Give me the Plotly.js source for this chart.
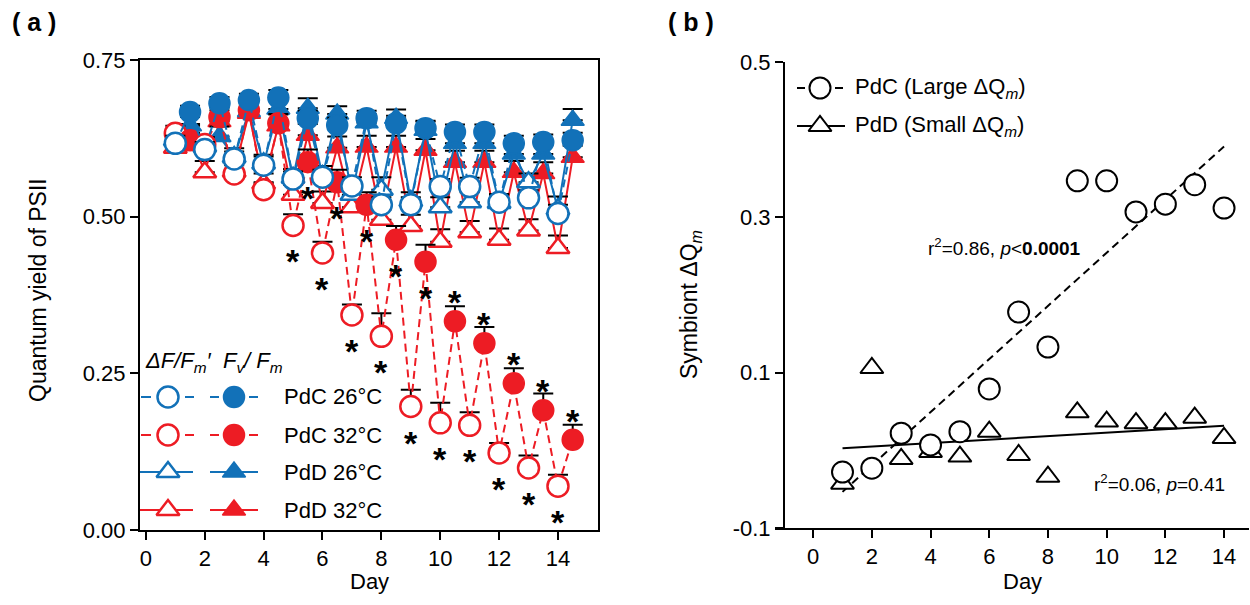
<!DOCTYPE html>
<html><head><meta charset="utf-8">
<script src="https://cdn.plot.ly/plotly-3.0.1.min.js"></script>
<style>html,body{margin:0;padding:0;background:#fff}#chart{width:1250px;height:605px}</style>
</head><body><div id="chart"></div>
<script>
// ---------- data: panel (a) ----------
const days = [1,2,3,4,5,6,7,8,9,10,11,12,13,14];
const halfDays = [1.5,2.5,3.5,4.5,5.5,6.5,7.5,8.5,9.5,10.5,11.5,12.5,13.5,14.5];

// ΔF/Fm' (open markers, measured on whole days)
const pdc26_dF = [0.617,0.607,0.592,0.582,0.560,0.563,0.549,0.519,0.519,0.548,0.548,0.523,0.530,0.505];
const pdc32_dF = [0.633,0.615,0.568,0.543,0.486,0.442,0.343,0.309,0.197,0.171,0.167,0.123,0.099,0.070];
const pdd26_dF = [0.622,0.612,0.595,0.585,0.562,0.565,0.535,0.543,0.525,0.515,0.523,0.522,0.555,0.512];
const pdd32_dF = [0.610,0.571,0.572,0.553,0.535,0.522,0.515,0.495,0.485,0.460,0.475,0.463,0.478,0.450];
// Fv/Fm (filled markers, measured on half days)
const pdc26_Fv = [0.667,0.681,0.686,0.690,0.657,0.646,0.657,0.649,0.641,0.635,0.635,0.617,0.619,0.622];
const pdc32_Fv = [0.622,0.659,0.670,0.649,0.587,0.555,0.519,0.463,0.428,0.333,0.298,0.234,0.191,0.144];
const pdd26_Fv = [0.645,0.628,0.668,0.672,0.673,0.664,0.650,0.657,0.638,0.617,0.617,0.600,0.600,0.654];
const pdd32_Fv = [0.632,0.652,0.665,0.645,0.630,0.610,0.611,0.611,0.606,0.587,0.587,0.571,0.569,0.595];
// upper error (SE)
const pdc26_dF_err = [0.012,0.012,0.012,0.014,0.012,0.012,0.014,0.012,0.012,0.012,0.014,0.012,0.012,0.014];
const pdc32_dF_err = [0.012,0.012,0.014,0.012,0.018,0.018,0.017,0.037,0.027,0.032,0.021,0.016,0.020,0.018];
const pdd26_dF_err = [0.014,0.016,0.014,0.014,0.014,0.016,0.016,0.020,0.014,0.016,0.016,0.014,0.014,0.020];
const pdd32_dF_err = [0.016,0.018,0.016,0.016,0.016,0.018,0.018,0.016,0.018,0.020,0.018,0.018,0.018,0.020];
const pdc26_Fv_err = [0.010,0.010,0.010,0.012,0.012,0.012,0.012,0.012,0.012,0.012,0.012,0.012,0.012,0.012];
const pdc32_Fv_err = [0.012,0.015,0.012,0.015,0.020,0.020,0.020,0.022,0.027,0.024,0.026,0.024,0.027,0.024];
const pdd26_Fv_err = [0.014,0.016,0.014,0.014,0.016,0.012,0.014,0.014,0.014,0.014,0.014,0.014,0.014,0.018];
const pdd32_Fv_err = [0.016,0.018,0.016,0.018,0.018,0.018,0.018,0.018,0.018,0.018,0.018,0.018,0.018,0.018];
// significance stars
const starBelowOpen = [5,6,7,8,9,10,11,12,13,14];
const starBelowFilled = [5.5,6.5,7.5,8.5,9.5];
const starAboveFilled = [10.5,11.5,12.5,13.5,14.5];
const legendLabelsA = ['PdC 26°C','PdC 32°C','PdD 26°C','PdD 32°C'];

// ---------- data: panel (b) ----------
const pdc_dQm = [-0.028,-0.023,0.022,0.007,0.024,0.079,0.178,0.133,0.347,0.347,0.307,0.317,0.342,0.312];
const pdd_dQm = [-0.043,0.106,-0.011,-0.002,-0.008,0.024,-0.006,-0.034,0.049,0.037,0.035,0.035,0.042,0.016];
const legendLabelsB = ['PdC (Large ΔQ<sub><i>m</i></sub>)','PdD (Small ΔQ<sub><i>m</i></sub>)'];
const statC = 'r<sup>2</sup>=0.86, <i>p</i>&lt;<b>0.0001</b>';
const statD = 'r<sup>2</sup>=0.06, <i>p</i>=0.41';

// ---------- helpers ----------
const W = 1250, H = 605;
const px = x => x / W, py = y => 1 - y / H;
const FONT = 'Arial, "Liberation Sans", sans-serif';
const BLUE = '#1271B8', RED = '#ED1C24';
const inter = (a, b) => a.flatMap((v, i) => [v, b[i]]);
const X_ALL = inter(days, halfDays);

function condTrace(dF, Fv, eF, eV, color, symbol, dashed) {
  const isOpen = inter(days.map(() => true), halfDays.map(() => false));
  return {
    type: 'scatter', mode: 'lines+markers', xaxis: 'x', yaxis: 'y',
    x: X_ALL, y: inter(dF, Fv),
    line: {color: color, width: 2, dash: dashed ? '8px,5px' : 'solid'},
    marker: {
      symbol: symbol, size: symbol === 'circle' ? 21 : 20,
      color: isOpen.map(o => o ? 'white' : color),
      line: {color: color, width: isOpen.map(o => o ? 2.5 : 1.5)}
    },
    error_y: {type: 'data', symmetric: false, array: inter(eF, eV),
      arrayminus: X_ALL.map(() => 0), color: 'black', thickness: 2, width: 10},
    showlegend: false, hoverinfo: 'skip', cliponaxis: false
  };
}

const traces = [
  condTrace(pdd32_dF, pdd32_Fv, pdd32_dF_err, pdd32_Fv_err, RED, 'triangle-up', false),
  condTrace(pdd26_dF, pdd26_Fv, pdd26_dF_err, pdd26_Fv_err, BLUE, 'triangle-up', false),
  condTrace(pdc32_dF, pdc32_Fv, pdc32_dF_err, pdc32_Fv_err, RED, 'circle', true),
  condTrace(pdc26_dF, pdc26_Fv, pdc26_dF_err, pdc26_Fv_err, BLUE, 'circle', true)
];

// ---------- panel (b): regression lines ----------
function linfit(xs, ys) {
  const n = xs.length, mx = xs.reduce((s, v) => s + v, 0) / n, my = ys.reduce((s, v) => s + v, 0) / n;
  let sxy = 0, sxx = 0;
  xs.forEach((x, i) => { sxy += (x - mx) * (ys[i] - my); sxx += (x - mx) * (x - mx); });
  const b = sxy / sxx; return {b: b, a: my - b * mx};
}
const fitC = linfit(days, pdc_dQm), fitD = linfit(days, pdd_dQm);
const xEnds = [days[0], days[days.length - 1]];
traces.push({type: 'scatter', mode: 'lines', xaxis: 'x2', yaxis: 'y2', x: xEnds,
  y: xEnds.map(x => fitC.a + fitC.b * x), line: {color: 'black', width: 2, dash: '8px,5px'},
  showlegend: false, hoverinfo: 'skip'});
traces.push({type: 'scatter', mode: 'lines', xaxis: 'x2', yaxis: 'y2', x: xEnds,
  y: xEnds.map(x => fitD.a + fitD.b * x), line: {color: 'black', width: 2},
  showlegend: false, hoverinfo: 'skip'});
traces.push({type: 'scatter', mode: 'markers', xaxis: 'x2', yaxis: 'y2', x: days, y: pdd_dQm,
  marker: {symbol: 'triangle-up', size: 20, color: 'white', line: {color: 'black', width: 2}},
  showlegend: false, hoverinfo: 'skip', cliponaxis: false});
traces.push({type: 'scatter', mode: 'markers', xaxis: 'x2', yaxis: 'y2', x: days, y: pdc_dQm,
  marker: {symbol: 'circle', size: 21, color: 'white', line: {color: 'black', width: 2}},
  showlegend: false, hoverinfo: 'skip', cliponaxis: false});

// ---------- hand-drawn legends on a pixel overlay axis ----------
function seg(x0, x1, y, color, width) {
  return {type: 'scatter', mode: 'lines', xaxis: 'x3', yaxis: 'y3', x: [x0, x1], y: [y, y],
    line: {color: color, width: width}, showlegend: false, hoverinfo: 'skip'};
}
function mk(x, y, symbol, fill, color, lw, size) {
  return {type: 'scatter', mode: 'markers', xaxis: 'x3', yaxis: 'y3', x: [x], y: [y],
    marker: {symbol: symbol, size: size, color: fill, line: {color: color, width: lw}},
    showlegend: false, hoverinfo: 'skip'};
}
const legRowsA = [397, 435, 472, 510];
const legStyleA = [[BLUE, 'circle', true], [RED, 'circle', true], [BLUE, 'triangle-up', false], [RED, 'triangle-up', false]];
const annotations = [];
legRowsA.forEach((ry, i) => {
  const [c, s, dashed] = legStyleA[i];
  if (dashed) {
    traces.push(seg(141, 151, ry, c, 2), seg(185, 194, ry, c, 2), seg(210, 219, ry, c, 2), seg(249, 258, ry, c, 2));
  } else {
    traces.push(seg(140, 193, ry, c, 2), seg(210, 258, ry, c, 2));
  }
  const sz = s === 'circle' ? 21 : 20;
  traces.push(mk(168, ry, s, 'white', c, 2.5, sz), mk(234, ry, s, c, c, 1.5, sz));
  annotations.push({xref: 'paper', yref: 'paper', x: px(282), y: py(ry), xanchor: 'left', yanchor: 'middle',
    text: legendLabelsA[i], showarrow: false, font: {family: FONT, size: 22, color: 'black'}});
});
annotations.push({xref: 'paper', yref: 'paper', x: px(143), y: py(362), xanchor: 'left', yanchor: 'middle',
  text: "<i>ΔF/F<sub>m</sub>′  F<sub>v</sub>/ F<sub>m</sub></i>", showarrow: false,
  font: {family: FONT, size: 22, color: 'black'}});

// legend (b)
traces.push(seg(797, 805, 88, 'black', 2), seg(835, 843, 88, 'black', 2), mk(820, 88, 'circle', 'white', 'black', 2, 21));
traces.push(seg(797, 845, 126, 'black', 2), mk(820, 126, 'triangle-up', 'white', 'black', 2, 20));
[88, 126].forEach((ry, i) => annotations.push({xref: 'paper', yref: 'paper', x: px(853), y: py(ry),
  xanchor: 'left', yanchor: 'middle', text: legendLabelsB[i], showarrow: false,
  font: {family: FONT, size: 22, color: 'black'}}));

// stats text
annotations.push({xref: 'paper', yref: 'paper', x: px(926), y: py(247), xanchor: 'left', yanchor: 'middle',
  text: statC, showarrow: false, font: {family: FONT, size: 19, color: 'black'}});
annotations.push({xref: 'paper', yref: 'paper', x: px(1092), y: py(483), xanchor: 'left', yanchor: 'middle',
  text: statD, showarrow: false, font: {family: FONT, size: 19, color: 'black'}});

// stars
function star(x, y, shift) {
  annotations.push({xref: 'x', yref: 'y', x: x, y: y, yshift: shift, text: '<b>*</b>', showarrow: false,
    font: {family: FONT, size: 34, color: 'black'}});
}
starBelowOpen.forEach(d => star(d, pdc32_dF[days.indexOf(d)], -36));
starBelowFilled.forEach(d => star(d, pdc32_Fv[halfDays.indexOf(d)], -36));
starAboveFilled.forEach(d => star(d, pdc32_Fv[halfDays.indexOf(d)], 19));

// panel labels and axis titles
annotations.push({xref: 'paper', yref: 'paper', x: px(10), y: py(22), xanchor: 'left', yanchor: 'middle',
  text: '<b>( a )</b>', showarrow: false, font: {family: FONT, size: 25, color: 'black'}});
annotations.push({xref: 'paper', yref: 'paper', x: px(666), y: py(22), xanchor: 'left', yanchor: 'middle',
  text: '<b>( b )</b>', showarrow: false, font: {family: FONT, size: 25, color: 'black'}});
annotations.push({xref: 'paper', yref: 'paper', x: px(38), y: py(290), textangle: -90, xanchor: 'center', yanchor: 'middle',
  text: 'Quantum yield of PSII', showarrow: false, font: {family: FONT, size: 23, color: 'black'}});
annotations.push({xref: 'paper', yref: 'paper', x: px(690), y: py(305), textangle: -90, xanchor: 'center', yanchor: 'middle',
  text: 'Symbiont ΔQ<sub><i>m</i></sub>', showarrow: false, font: {family: FONT, size: 23, color: 'black'}});
annotations.push({xref: 'paper', yref: 'paper', x: px(369), y: py(581), xanchor: 'center', yanchor: 'middle',
  text: 'Day', showarrow: false, font: {family: FONT, size: 22, color: 'black'}});
annotations.push({xref: 'paper', yref: 'paper', x: px(1022), y: py(581), xanchor: 'center', yanchor: 'middle',
  text: 'Day', showarrow: false, font: {family: FONT, size: 22, color: 'black'}});

const axBase = {showline: true, linecolor: 'black', linewidth: 2, ticks: 'outside', ticklen: 8, tickwidth: 2,
  tickcolor: 'black', showgrid: false, zeroline: false, fixedrange: true,
  tickfont: {family: FONT, size: 22, color: 'black'}};
const xTicks = [0,2,4,6,8,10,12,14];
const yTicksA = [0, 0.25, 0.5, 0.75], yTickTextA = ['0.00','0.25','0.50','0.75'];
const yTicksB = [-0.1, 0.1, 0.3, 0.5], yTickTextB = ['-0.1','0.1','0.3','0.5'];

const layout = {
  width: W, height: H, margin: {l: 0, r: 0, t: 0, b: 0},
  paper_bgcolor: 'white', plot_bgcolor: 'rgba(0,0,0,0)', showlegend: false,
  font: {family: FONT, color: 'black'},
  xaxis: Object.assign({}, axBase, {domain: [px(140), px(598)], range: [-0.2, 15.36], anchor: 'y',
    tickvals: xTicks, mirror: true}),
  yaxis: Object.assign({}, axBase, {domain: [py(530), py(60)], range: [0, 0.75], anchor: 'x',
    tickvals: yTicksA, ticktext: yTickTextA, mirror: true}),
  xaxis2: Object.assign({}, axBase, {domain: [px(775), px(1249)], range: [-1.3, 14.85], anchor: 'y2',
    tickvals: xTicks}),
  yaxis2: Object.assign({}, axBase, {domain: [py(528), py(62)], range: [-0.1, 0.5], anchor: 'free',
    position: px(784), tickvals: yTicksB, ticktext: yTickTextB}),
  xaxis3: {domain: [0, 1], range: [0, W], visible: false, fixedrange: true, anchor: 'y3'},
  yaxis3: {domain: [0, 1], range: [H, 0], visible: false, fixedrange: true, anchor: 'x3'},
  annotations: annotations
};
Plotly.newPlot('chart', traces, layout, {displayModeBar: false, staticPlot: true});
</script></body></html>
